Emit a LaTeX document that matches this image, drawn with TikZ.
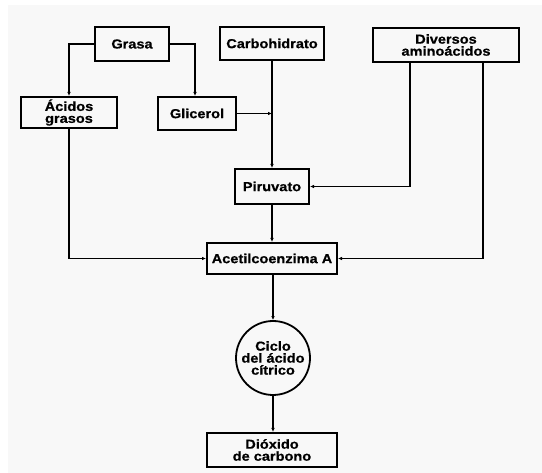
\documentclass[tikz,border=0pt]{standalone}
\usepackage{fontspec}
\setmainfont{Liberation Sans}
\newfontfamily\labfont[FakeStretch=1.12,FakeBold=0.6]{Liberation Sans}
\usetikzlibrary{arrows.meta}
\definecolor{paper}{RGB}{248,248,248}
\begin{document}
\begin{tikzpicture}[x=1pt,y=-1pt,
  box/.style={draw=black,line width=2pt,rectangle,inner sep=0pt,align=center,
    font=\labfont\bfseries\fontsize{13}{12}\selectfont},
  cyc/.style={draw=black,line width=1.8pt,circle,inner sep=0pt,minimum size=74pt,align=center,
    font=\labfont\bfseries\fontsize{13}{12}\selectfont},
  link/.style={line width=1.1pt,-{Latex[length=4pt,width=3.6pt]}}]
\useasboundingbox (0,0) rectangle (542,473);
\fill[paper] (8,5) rectangle (542,473);
\node[box,minimum width=74pt,minimum height=34pt] (grasa) at (132,44) {Grasa};
\node[box,minimum width=104pt,minimum height=33pt] (carbo) at (272,43.5) {Carbohidrato};
\node[box,minimum width=146pt,minimum height=34pt] (divers) at (446,45) {Diversos\\aminoácidos};
\node[box,minimum width=96pt,minimum height=31pt] (acidos) at (69,112.5) {Ácidos\\grasos};
\node[box,minimum width=78pt,minimum height=33pt] (glic) at (197,113.5) {Glicerol};
\node[box,minimum width=74pt,minimum height=35pt] (piru) at (272,186.5) {Piruvato};
\node[box,minimum width=130pt,minimum height=31pt] (acet) at (272,258.5) {Acetilcoenzima A};
\node[cyc] (ciclo) at (273,358) {Ciclo\\del ácido\\cítrico};
\node[box,minimum width=130pt,minimum height=34pt] (diox) at (272,450) {Dióxido\\de carbono};
\coordinate (dl) at ([xshift=-36pt]divers.south);
\coordinate (dr) at ([xshift=37pt]divers.south);
\draw[link] (grasa.west) -| (acidos.north);
\draw[link] (grasa.east) -| ([xshift=-2pt]glic.north);
\draw[link] (carbo.south) -- (piru.north);
\draw[link] (glic.east) -- (glic.east -| carbo.south);
\draw[link] (dl) |- (piru.east);
\draw[link] (dr) |- (acet.east);
\draw[link] (acidos.south) |- (acet.west);
\draw[link] (piru.south) -- (acet.north);
\draw[link] (acet.south -| ciclo.north) -- (ciclo.north);
\draw[link] (ciclo.south) -- (diox.north -| ciclo.south);
\end{tikzpicture}
\end{document}
